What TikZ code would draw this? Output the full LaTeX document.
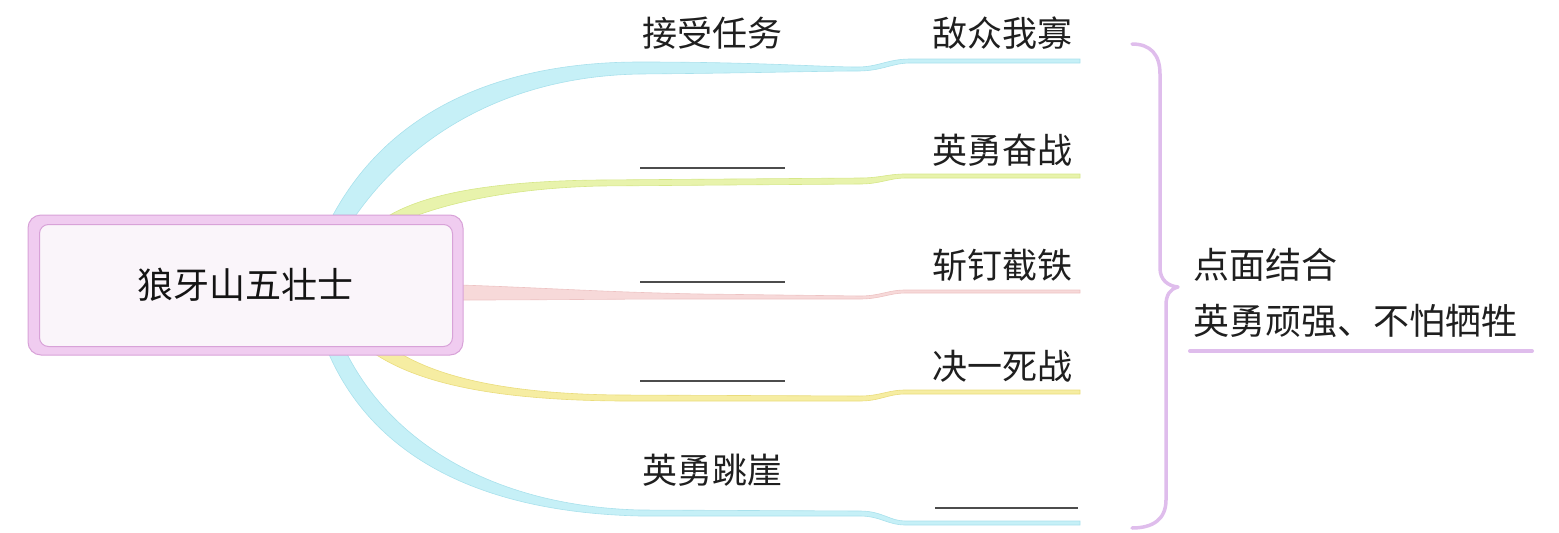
\documentclass[tikz,border=0pt]{standalone}
\usepackage{fontspec}
\newfontfamily\cjk{Noto Sans CJK SC}
\definecolor{bcyan}{HTML}{C6F0F7}
\definecolor{bcyanE}{HTML}{A9E1EC}
\definecolor{bgreen}{HTML}{E8F3AC}
\definecolor{bgreenE}{HTML}{D6E788}
\definecolor{bpink}{HTML}{F7D9D9}
\definecolor{bpinkE}{HTML}{EDC3C3}
\definecolor{byellow}{HTML}{F6EDA2}
\definecolor{byellowE}{HTML}{EADC7C}
\definecolor{lilac}{HTML}{DFBDEC}
\definecolor{boxfill}{HTML}{FAF5FA}
\definecolor{boxring}{HTML}{F0CCF0}
\definecolor{boxline}{HTML}{D8A2D8}
\begin{document}
\begin{tikzpicture}[x=1pt,y=-1pt,
  lbl/.style={font=\cjk\fontsize{35}{35}\selectfont, inner sep=0pt, text=black!88},
  sumtext/.style={font=\cjk\fontsize{36}{36}\selectfont, inner sep=0pt, text=black!88},
  rootouter/.style={draw=boxline, fill=boxring, line width=1pt, rounded corners=13pt, minimum width=435pt, minimum height=140pt, inner sep=0pt},
  rootinner/.style={draw=boxline, fill=boxfill, line width=1pt, rounded corners=9pt},
  roottext/.style={font=\cjk\fontsize{36}{36}\selectfont, inner sep=0pt, text=black!92},
  blank/.style={draw=black!70, line width=1.3pt},
  band/.style={line width=0.6pt},
  lilacline/.style={draw=lilac, line width=4pt, line cap=round}
]
\useasboundingbox (0,0) rectangle (1559,533);

% branch 1 (cyan, top)
\filldraw[band, fill=bcyan, draw=bcyanE] (333,215) .. controls (390,110) and (500,62) .. (640,62)
  .. controls (760,62) and (820,67) .. (858,67) .. controls (878,67) and (888,59) .. (910,59) -- (1080,59)
  -- (1080,63) -- (910,63) .. controls (892,63) and (882,71) .. (858,71)
  .. controls (820,71) and (760,73) .. (640,74) .. controls (520,76) and (420,125) .. (356,215) -- cycle;

% branch 2 (yellow-green)
\filldraw[band, fill=bgreen, draw=bgreenE] (390,215) .. controls (430,192) and (500,181) .. (600,180)
  -- (860,178) .. controls (880,178) and (888,174) .. (905,174) -- (1080,174)
  -- (1080,178) -- (905,178) .. controls (890,178) and (880,184) .. (860,184)
  -- (600,186) .. controls (520,188) and (460,200) .. (418,215) -- cycle;

% branch 3 (pink)
\filldraw[band, fill=bpink, draw=bpinkE] (460,285) .. controls (550,288) and (600,292) .. (700,294)
  -- (860,296) .. controls (880,296) and (888,290) .. (905,290) -- (1080,290)
  -- (1080,293) -- (905,293) .. controls (890,293) and (880,299) .. (860,299)
  -- (700,299) .. controls (600,299) and (550,300) .. (460,300) -- cycle;

% branch 4 (yellow)
\filldraw[band, fill=byellow, draw=byellowE] (372,352) .. controls (420,385) and (500,400) .. (620,401)
  -- (860,401) .. controls (880,401) and (888,394) .. (905,394) -- (1080,394)
  -- (1080,390) -- (905,390) .. controls (888,390) and (880,396) .. (860,396)
  -- (620,395) .. controls (510,394) and (440,378) .. (398,352) -- cycle;

% branch 5 (cyan, bottom)
\filldraw[band, fill=bcyan, draw=bcyanE] (328,352) .. controls (370,450) and (470,512) .. (640,516)
  -- (860,516) .. controls (880,516) and (888,525) .. (905,525) -- (1080,525)
  -- (1080,521) -- (905,521) .. controls (890,521) and (882,511) .. (860,511)
  -- (640,510) .. controls (490,506) and (390,440) .. (346,352) -- cycle;

% root
\node[rootouter] (rootbox) at (245.5,285) {};
\draw[rootinner] ([shift={(12,10)}]rootbox.north west) rectangle ([shift={(-11,-9)}]rootbox.south east);
\node[roottext] (root) at (rootbox.center) {狼牙山五壮士};

% labels
\node[lbl] (l1a) at (712,33) {接受任务};
\node[lbl] (l1b) at (1002,33) {敌众我寡};
\node[lbl] (l2b) at (1002,150) {英勇奋战};
\node[lbl] (l3b) at (1002,265) {斩钉截铁};
\node[lbl] (l4b) at (1002,366) {决一死战};
\node[lbl] (l5a) at (712,470) {英勇跳崖};

% blanks
\draw[blank] (640,168) -- (785,168);
\draw[blank] (640,282) -- (785,282);
\draw[blank] (640,381) -- (785,381);
\draw[blank] (935,508) -- (1078,508);

% brace
\draw[draw=lilac, line width=3.5pt, line cap=round, line join=round]
  (1132,44) .. controls (1150,44) and (1160,54) .. (1160,74) -- (1160,268)
  .. controls (1160,280) and (1168,286) .. (1178,287)
  .. controls (1170,289) and (1166,295) .. (1166,305) -- (1166,500)
  .. controls (1166,520) and (1152,528) .. (1132,528);

% summary
\node[sumtext, anchor=west] (s1) at (1193,265) {点面结合};
\node[sumtext, anchor=west] (s2) at (1193,321) {英勇顽强、不怕牺牲};
\draw[lilacline] (1190,351) -- (1532,351);
\end{tikzpicture}
\end{document}
